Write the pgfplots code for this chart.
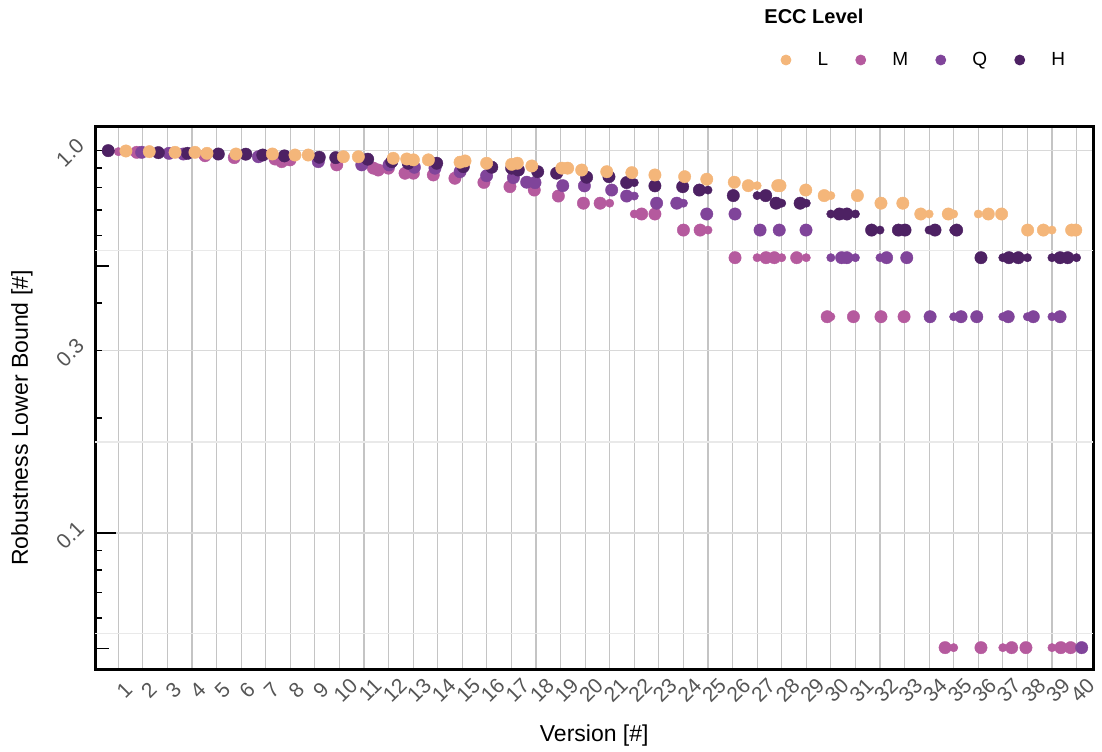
\documentclass[border=0pt]{standalone}
\usepackage{pgfplots}
\pgfplotsset{compat=1.18}
\usepackage{fontspec}
\setmainfont{Liberation Sans}

\definecolor{cL}{HTML}{F4B67A}
\definecolor{cM}{HTML}{B55A9E}
\definecolor{cQ}{HTML}{80449A}
\definecolor{cH}{HTML}{4D2163}
\definecolor{tickgray}{HTML}{555555}
\definecolor{vgrid}{HTML}{C4C4C4}
\definecolor{hgrid}{HTML}{D9D9D9}
\definecolor{hminor}{HTML}{E9E9E9}

\pgfplotsset{
  big/.style={only marks, mark=*, mark size=3.1pt, mark options={line width=0.2pt}},
  small/.style={only marks, mark=*, mark size=2.1pt, mark options={line width=0.2pt}},
  dotlegend/.style={only marks, mark=*, mark size=2.5pt,
    legend image code/.code={\draw[##1] plot coordinates {(0pt,0pt)};}},
}

\begin{document}
\begin{tikzpicture}
\begin{axis}[
  name=ax,
  scale only axis, width=498.75pt, height=271.25pt,
  xmin=0.072, xmax=40.67,
  ymode=log, ymin=0.04401, ymax=1.153,
  axis line style={line width=1.5pt, black},
  /pgf/number format/assume math mode=true,
  xtick={1,...,40},
  xticklabel style={font=\fontsize{10.5}{12}\selectfont, text=tickgray, anchor=center, xshift=3pt, yshift=-10.25pt, rotate=45},
  ytick={0.1,0.3,1}, yticklabels={0.1,0.3,1.0},
  yticklabel style={font=\fontsize{10.5}{12}\selectfont, text=tickgray, anchor=center, xshift=-12.75pt, yshift=-1pt, rotate=45},
  major tick length=0pt, minor tick length=0pt,
  xmajorgrids, ymajorgrids,
  x grid style={vgrid, line width=0.6pt},
  y grid style={hgrid, line width=0.7pt},
  extra y ticks={0.05477,0.1732,0.5477},
  extra y tick labels={},
  extra y tick style={grid=major, y grid style={hminor, line width=0.6pt}, major tick length=0pt},
  xlabel={Version [\#]},
  xlabel style={at={(axis description cs:0.5,-0.1226)}, anchor=center, font=\fontsize{11.5}{13}\selectfont},
  ylabel={Robustness Lower Bound [\#]},
  ylabel style={at={(axis description cs:-0.0737,0.4636)}, anchor=center, font=\fontsize{11.5}{13}\selectfont},
  legend style={at={(axis description cs:0.6872,1.1235)}, anchor=west, draw=none, fill=none,
    inner sep=0pt, outer sep=0pt, legend columns=4, font=\fontsize{9.5}{11}\selectfont,
    /tikz/every odd column/.append style={column sep=11.3pt},
    /tikz/every even column/.append style={column sep=11.8pt}},
]

% legend entries in level order
\addlegendimage{dotlegend, cL}
\addlegendimage{dotlegend, cM}
\addlegendimage{dotlegend, cQ}
\addlegendimage{dotlegend, cH}
\legend{L, M, Q, H}

% ---- ECC level M ----
\addplot[big, cM, forget plot] coordinates {
(1.75,0.990) (4.53,0.970) (5.72,0.959) (7.38,0.951) (7.65,0.936) (7.99,0.946)
(9.89,0.918) (11.38,0.900) (11.58,0.890) (11.99,0.900) (12.67,0.873) (13.01,0.873)
(13.82,0.864) (14.70,0.847) (15.88,0.826) (16.94,0.805) (17.93,0.789) (18.91,0.761)
(19.93,0.729) (20.61,0.729) (22.30,0.683) (22.84,0.683) (24.00,0.620) (24.68,0.620)
(26.10,0.525) (27.36,0.525) (27.70,0.525) (28.61,0.525) (29.85,0.368) (30.92,0.368)
(32.04,0.368) (32.98,0.368) (34.65,0.0502) (36.11,0.0502) (37.36,0.0502) (37.94,0.0502)
(39.36,0.0502) (39.76,0.0502)};
\addplot[small, cM, forget plot] coordinates {
(1,0.994) (21,0.729) (22,0.683) (25,0.620) (27,0.525) (28,0.525) (29,0.525)
(30,0.368) (35,0.0502) (37,0.0502) (39,0.0502)};

% ---- ECC level Q ----
\addplot[big, cQ, forget plot] coordinates {
(1.95,0.990) (3.06,0.984) (3.65,0.980) (6.70,0.964) (9.14,0.936) (10.91,0.918)
(12.02,0.918) (13.05,0.905) (13.89,0.900) (14.91,0.881) (15.99,0.860) (17.08,0.850)
(17.62,0.827) (17.96,0.825) (19.09,0.810) (19.97,0.809) (21.08,0.789) (21.69,0.761)
(22.91,0.729) (23.73,0.729) (24.95,0.683) (26.10,0.683) (27.12,0.620) (27.90,0.620)
(28.99,0.620) (30.44,0.525) (30.65,0.525) (32.27,0.525) (33.09,0.525) (34.04,0.368)
(35.30,0.368) (35.94,0.368) (37.22,0.368) (38.24,0.368) (39.33,0.368) (40.21,0.0502)};
\addplot[small, cQ, forget plot] coordinates {
(22,0.761) (24,0.729) (30,0.525) (31,0.525) (32,0.525) (35,0.368) (37,0.368)
(38,0.368) (39,0.368)};

% ---- ECC level H ----
\addplot[big, cH, forget plot] coordinates {
(0.59,1.000) (2.63,0.988) (3.82,0.984) (5.07,0.980) (6.19,0.979) (6.88,0.974)
(7.76,0.969) (9.18,0.961) (9.85,0.959) (11.15,0.950) (12.13,0.936) (12.80,0.927)
(13.96,0.927) (15.04,0.908) (16.20,0.905) (17.01,0.900) (17.28,0.890) (18.07,0.881)
(18.84,0.873) (20.06,0.852) (20.97,0.855) (21.69,0.825) (22.84,0.809) (23.97,0.805)
(24.65,0.789) (26.03,0.763) (27.35,0.763) (27.77,0.729) (28.75,0.729) (30.35,0.683)
(30.65,0.683) (31.66,0.620) (32.75,0.620) (33.02,0.620) (34.24,0.620) (35.12,0.620)
(36.11,0.525) (37.25,0.525) (37.63,0.525) (39.33,0.525) (39.64,0.525)};
\addplot[small, cH, forget plot] coordinates {
(22,0.825) (25,0.789) (27,0.763) (28,0.729) (29,0.729) (30,0.683) (31,0.683)
(32,0.620) (34,0.620) (35,0.620) (37,0.525) (38,0.525) (39,0.525) (40,0.525)};

% ---- ECC level L ----
\addplot[big, cL, forget plot] coordinates {
(1.31,0.998) (2.26,0.994) (3.31,0.990) (4.12,0.990) (4.61,0.984) (5.79,0.980)
(7.27,0.980) (8.19,0.974) (8.73,0.974) (10.16,0.964) (10.77,0.964) (12.19,0.955)
(12.74,0.951) (13.01,0.946) (13.62,0.946) (14.91,0.933) (15.11,0.940) (15.99,0.927)
(17.01,0.921) (17.24,0.927) (17.83,0.912) (19.05,0.900) (19.29,0.900) (19.86,0.890)
(20.88,0.881) (21.90,0.876) (22.84,0.864) (24.05,0.855) (24.95,0.842) (26.07,0.827)
(26.64,0.810) (27.84,0.810) (27.93,0.810) (28.98,0.789) (29.73,0.763) (31.08,0.763)
(32.04,0.729) (32.93,0.729) (33.66,0.683) (34.78,0.683) (36.41,0.683) (36.95,0.683)
(38.01,0.620) (38.65,0.620) (39.80,0.620) (39.97,0.620)};
\addplot[small, cL, forget plot] coordinates {
(27,0.810) (30,0.763) (34,0.683) (35,0.683) (36,0.683) (39,0.620)};

% logarithmic tick marks along the left edge
\pgfplotsinvokeforeach{0.9,0.8,0.7,0.6,0.4,0.3,0.2,0.09,0.08,0.07,0.06}{
  \draw[black, line width=0.75pt] (axis cs:0.072,#1) -- ++(3.5pt,0pt);}
\pgfplotsinvokeforeach{0.5,0.05}{
  \draw[black, line width=0.75pt] (axis cs:0.072,#1) -- ++(7pt,0pt);}
\pgfplotsinvokeforeach{1,0.1}{
  \draw[black, line width=0.75pt] (axis cs:0.072,#1) -- ++(10.5pt,0pt);}
\end{axis}

\node[anchor=west, inner sep=0pt, font=\bfseries\fontsize{10}{12}\selectfont]
  at ([xshift=334.25pt, yshift=55.5pt]ax.north west) {ECC Level};

\pgfresetboundingbox
\path[use as bounding box] ([shift={(-47.75pt,-40.75pt)}]ax.south west)
  rectangle ([shift={(4.5pt,63.5pt)}]ax.north east);
\end{tikzpicture}
\end{document}
